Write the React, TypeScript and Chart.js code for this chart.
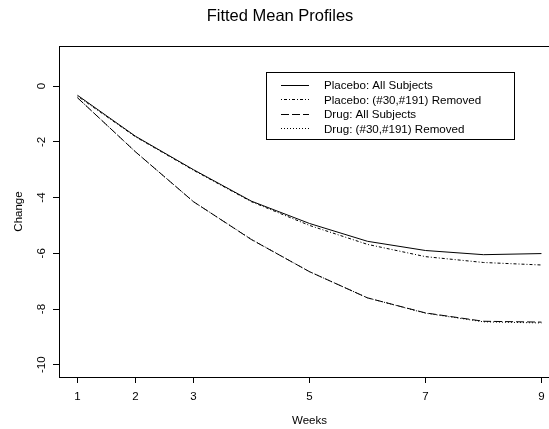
import React, { useEffect, useRef } from "react";
import { Chart, registerables } from "chart.js";

Chart.register(...registerables);

const weeks = [1, 2, 3, 4, 5, 6, 7, 8, 9];
const xTickValues = [1, 2, 3, 5, 7, 9];
const yTickValues = [0, -2, -4, -6, -8, -10];

const placeboAll = [-0.33, -1.8, -3.0, -4.13, -4.93, -5.57, -5.9, -6.05, -6.01];
const placeboRemoved = [-0.36, -1.82, -3.02, -4.15, -5.0, -5.68, -6.12, -6.33, -6.42];
const drugAll = [-0.42, -2.36, -4.15, -5.51, -6.66, -7.6, -8.14, -8.44, -8.47];
const drugRemoved = [-0.42, -2.36, -4.15, -5.5, -6.66, -7.6, -8.15, -8.46, -8.5];

const seriesLabels = [
  "Placebo: All Subjects",
  "Placebo: (#30,#191) Removed",
  "Drug: All Subjects",
  "Drug: (#30,#191) Removed",
];
const seriesValues = [placeboAll, placeboRemoved, drugAll, drugRemoved];
const seriesDash: number[][] = [[], [1, 2, 3, 2], [8, 3], [1, 2]];

const FONT = "'Liberation Sans', Arial, Helvetica, sans-serif";

const boxPlugin = {
  id: "rbox",
  afterDraw(chart: any) {
    const ctx = chart.ctx;
    const a = chart.chartArea;
    ctx.save();
    ctx.strokeStyle = "#000";
    ctx.lineWidth = 1;
    ctx.setLineDash([]);
    const l = Math.round(a.left) + 0.5;
    const t = Math.round(a.top) + 0.5;
    const r = Math.round(a.right) + 0.5;
    const b = Math.round(a.bottom) + 0.5;
    ctx.strokeRect(l, t, r - l, b - t);

    // legend
    const lx = 266.5, ly = 72.5, lw = 248, lh = 67;
    ctx.fillStyle = "#fff";
    ctx.fillRect(lx, ly, lw, lh);
    ctx.strokeRect(lx, ly, lw, lh);
    const rows = [84.5, 99, 113.5, 128];
    ctx.font = `11.6px ${FONT}`;
    ctx.textBaseline = "middle";
    ctx.textAlign = "left";
    chart.data.datasets.forEach((ds: any, i: number) => {
      const y = Math.round(rows[i]) + 0.5;
      ctx.beginPath();
      ctx.setLineDash(ds.borderDash || []);
      ctx.strokeStyle = "#000";
      ctx.moveTo(281, y);
      ctx.lineTo(309, y);
      ctx.stroke();
      ctx.setLineDash([]);
      ctx.fillStyle = "#000";
      ctx.fillText(ds.label, 324, rows[i] + 1.5);
    });
    ctx.restore();
  },
};

export default function App() {
  const ref = useRef<HTMLCanvasElement>(null);
  useEffect(() => {
    if (!ref.current) return;
    const chart = new Chart(ref.current, {
      type: "line",
      data: {
        datasets: seriesValues.map((vals, i) => ({
          label: seriesLabels[i],
          data: weeks.map((w, j) => ({ x: w, y: vals[j] })),
          borderColor: "#000",
          borderWidth: 1,
          borderDash: seriesDash[i],
          pointRadius: 0,
          tension: 0,
          fill: false,
        })),
      },
      options: {
        animation: false,
        responsive: false,
        devicePixelRatio: 1,
        layout: { padding: { left: 0, right: 50, top: 0, bottom: 0 } },
        plugins: {
          legend: { display: false },
          tooltip: { enabled: false },
          title: {
            display: true,
            text: "Fitted Mean Profiles",
            color: "#000",
            font: { family: FONT, size: 16.5, weight: "normal" },
            padding: { top: 7, bottom: 19.2 },
          },
        },
        scales: {
          x: {
            type: "linear",
            min: 0.68,
            max: 9.32,
            afterBuildTicks: (s: any) => {
              s.ticks = xTickValues.map((v) => ({ value: v }));
            },
            afterFit: (s: any) => {
              s.height = 52;
            },
            border: { display: false },
            grid: {
              drawOnChartArea: false,
              drawTicks: true,
              tickLength: 6,
              color: "#000",
              lineWidth: 1,
            },
            ticks: {
              color: "#000",
              font: { family: FONT, size: 11.5 },
              padding: 7,
              maxRotation: 0,
              autoSkip: false,
              callback: (v: any) => String(v),
            },
            title: {
              display: true,
              text: "Weeks",
              color: "#000",
              font: { family: FONT, size: 11.5 },
              padding: { top: 0, bottom: 1.1 },
            },
          },
          y: {
            type: "linear",
            min: -10.44,
            max: 1.44,
            afterBuildTicks: (s: any) => {
              s.ticks = yTickValues.map((v) => ({ value: v }));
            },
            afterFit: (s: any) => {
              s.width = 59;
            },
            border: { display: false },
            grid: {
              drawOnChartArea: false,
              drawTicks: true,
              tickLength: 6,
              color: "#000",
              lineWidth: 1,
            },
            ticks: {
              color: "#000",
              font: { family: FONT, size: 11.5 },
              padding: 2.7,
              minRotation: 90,
              maxRotation: 90,
              crossAlign: "center",
              autoSkip: false,
              callback: (v: any) => String(v),
            },
            title: {
              display: true,
              text: "Change",
              color: "#000",
              font: { family: FONT, size: 11.5 },
              padding: { top: 12.1, bottom: 0 },
            },
          },
        },
      },
      plugins: [boxPlugin],
    } as any);
    return () => chart.destroy();
  }, []);
  return (
    <div
      style={{
        position: "fixed",
        left: 0,
        top: 0,
        width: 549,
        height: 429,
        overflow: "hidden",
        background: "#fff",
      }}
    >
      <canvas ref={ref} width={610} height={429} style={{ display: "block" }} />
    </div>
  );
}
